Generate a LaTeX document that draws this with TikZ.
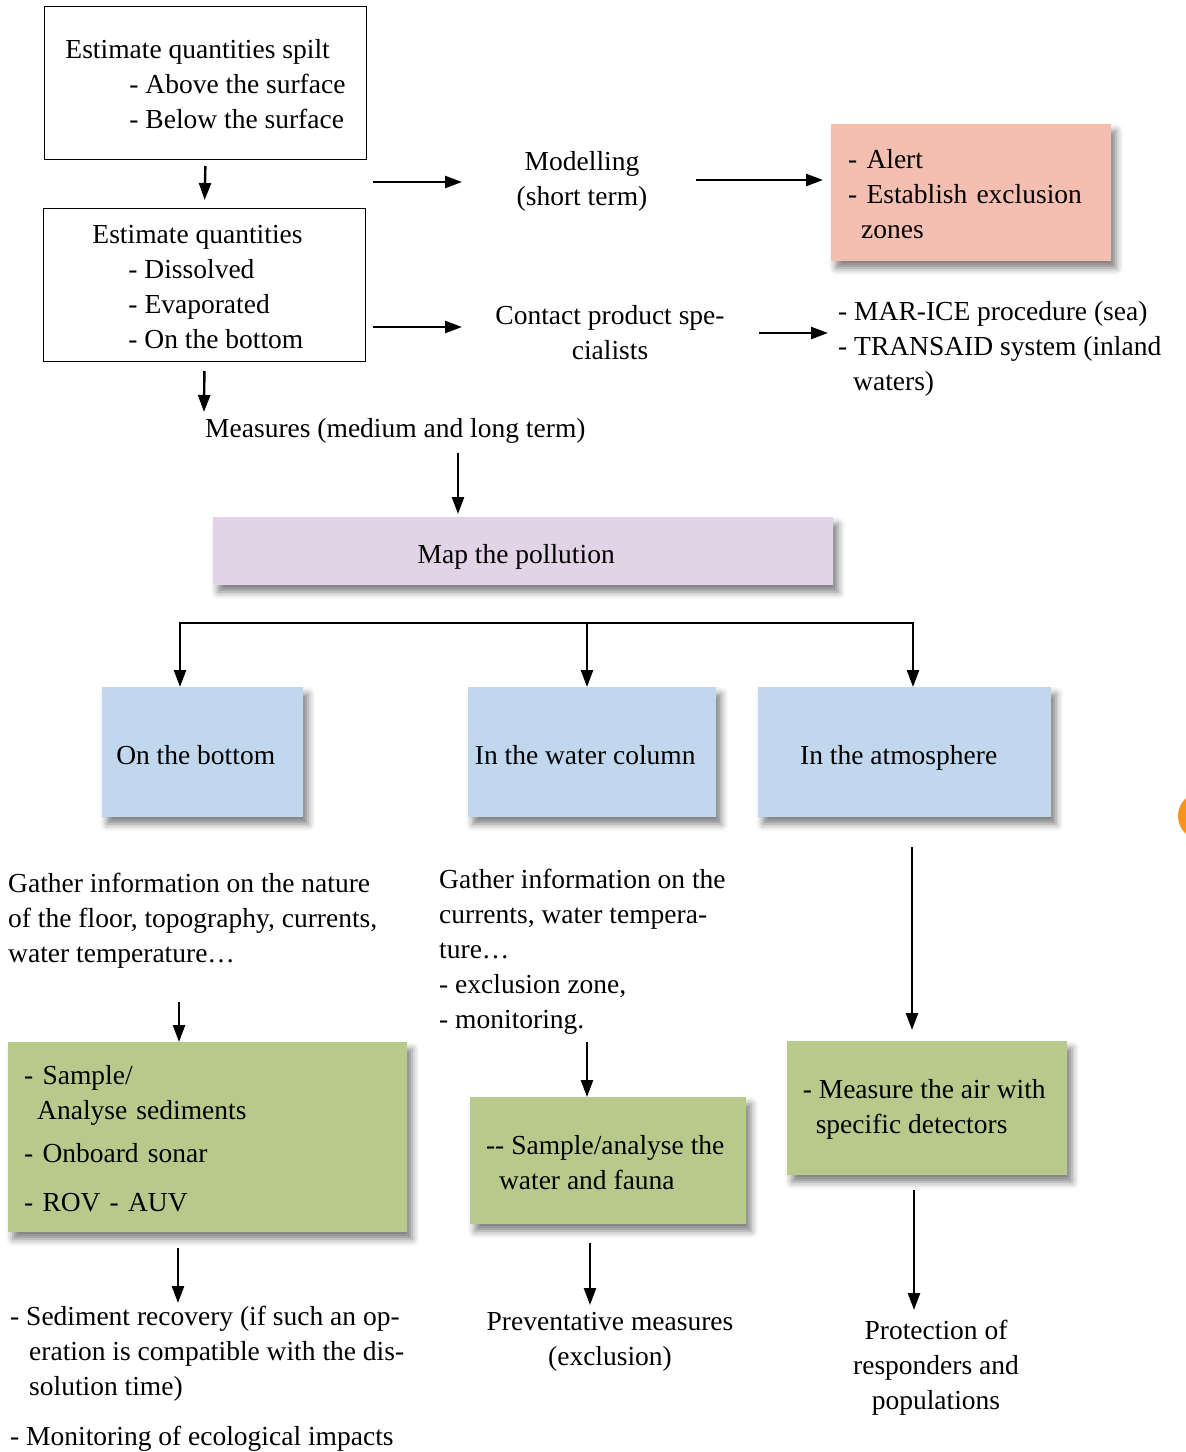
\documentclass[tikz,border=0pt]{standalone}
\usepackage{fontspec}
\setmainfont{Liberation Serif}
\usetikzlibrary{arrows.meta,shadows.blur}
\definecolor{alertpink}{HTML}{F4BEB0}
\definecolor{mapmauve}{HTML}{E2D3E6}
\definecolor{zoneblue}{HTML}{C0D7EE}
\definecolor{actgreen}{HTML}{B8C98C}
\definecolor{taborange}{HTML}{F7941D}
\tikzset{
  box/.style={draw, line width=1pt, fill=white, anchor=north west, align=left},
  shadebox/.style={anchor=north west, blur shadow={shadow xshift=5pt, shadow yshift=-7pt, shadow blur radius=7pt, shadow opacity=50}},
  onerow/.style={text height=24pt, text depth=0pt},
  txt/.style={inner sep=0pt},
  arr/.style={line width=2.4pt, -{Triangle[length=17pt,width=12pt]}},
}
\begin{document}
\begin{tikzpicture}[x=1pt,y=-1pt,font=\fontsize{27.5}{35}\selectfont]
  \useasboundingbox (0,0) rectangle (1186,1452);
  % estimates (top left)
  \node[box, minimum width=322pt, minimum height=153pt] (spilt) at (44,6)
    {\rule{0pt}{22pt}Estimate quantities spilt\\\hspace*{64pt}- Above the surface\\\hspace*{64pt}- Below the surface};
  \node[box, minimum width=322pt, minimum height=153pt] (estim) at (43,208)
    {\rule{0pt}{22pt}Estimate quantities\hspace*{14pt}\\\hspace*{36pt}- Dissolved\\\hspace*{36pt}- Evaporated\\\hspace*{36pt}- On the bottom};
  \draw[arr, shorten <=6pt, shorten >=8pt] (spilt.south) -- (estim.north);
  \coordinate (mtop) at (204,412);
  \draw[arr, shorten <=9pt] (estim.south) -- (mtop);
  \node[txt, anchor=west] (measures) at (205,431) {Measures (medium and long term)};
  % short term branch
  \node[txt, align=center] (model) at (582,181) {Modelling\\(short term)};
  \coordinate (ms) at (373,182);
  \coordinate (me) at (462,182);
  \draw[arr] (ms) -- (me);
  \node[shadebox, fill=alertpink, minimum width=280pt, minimum height=137pt, inner xsep=17pt, text width=246pt, align=left] (alert) at (831,124)
    {\rule{0pt}{21pt}- Alert\\- Establish exclusion\\\hspace*{13pt}zones};
  \coordinate (as) at (696,180);
  \draw[arr, shorten >=8pt] (as) -- (as -| alert.west);
  % specialists branch
  \node[txt, align=center] (contact) at (610,333) {Contact product spe-\\cialists};
  \coordinate (cs) at (373,327);
  \coordinate (ce) at (462,327);
  \draw[arr] (cs) -- (ce);
  \node[txt, anchor=west, align=left] (marice) at (838,349)
    {- MAR-ICE procedure (sea)\\- TRANSAID system (inland\\\hspace*{15pt}waters)};
  \coordinate (ks) at (759,333);
  \coordinate (ke) at (828,333);
  \draw[arr] (ks) -- (ke);
  % map the pollution
  \node[shadebox, fill=mapmauve, minimum width=620pt, minimum height=68pt, onerow] (map) at (213,517)
    {Map the pollution\hspace*{14pt}};
  \coordinate (mp) at (458,453);
  \draw[arr, shorten >=3pt] (mp) -- (mp |- map.north);
  % three zones
  \node[shadebox, fill=zoneblue, minimum width=201pt, minimum height=130pt, onerow] (bot) at (102,687)
    {On the bottom\hspace*{14pt}};
  \node[shadebox, fill=zoneblue, minimum width=248pt, minimum height=130pt, onerow] (water) at (468,687)
    {In the water column\hspace*{14pt}};
  \node[shadebox, fill=zoneblue, minimum width=293pt, minimum height=130pt, onerow] (atmos) at (758,687)
    {In the atmosphere\hspace*{12pt}};
  \coordinate (fl) at (180,623);
  \coordinate (fm) at (587,623);
  \coordinate (fr) at (913,623);
  \draw[line width=2.4pt, line cap=rect] (fl) -- (fr);
  \draw[arr] (fl) -- (fl |- bot.north);
  \draw[arr] (fm) -- (fm |- water.north);
  \draw[arr] (fr) -- (fr |- atmos.north);
  % bottom column
  \node[txt, anchor=west, align=left] (gbot) at (8,921)
    {Gather information on the nature\\of the floor, topography, currents,\\water temperature\ldots};
  \node[shadebox, fill=actgreen, minimum width=399pt, minimum height=190pt, inner xsep=16pt, text width=367pt, align=left] (sedi) at (8,1042)
    {\rule{0pt}{21pt}- Sample/\\\hspace*{13pt}Analyse sediments\\[8pt]- Onboard sonar\\[14pt]- ROV - AUV};
  \coordinate (gl) at (179,1002);
  \draw[arr] (gl) -- (gl |- sedi.north);
  \coordinate (sl) at (178,1303);
  \draw[arr, shorten <=16pt] (sl |- sedi.south) -- (sl);
  \node[txt, anchor=west, align=left] (recov) at (10,1379)
    {- Sediment recovery (if such an op-\\\hspace*{19pt}eration is compatible with the dis-\\\hspace*{19pt}solution time)\\[15pt]- Monitoring of ecological impacts};
  % water column
  \node[txt, anchor=west, align=left] (gwat) at (439,952)
    {Gather information on the\\currents, water tempera-\\ture\ldots\\- exclusion zone,\\- monitoring.};
  \node[shadebox, fill=actgreen, minimum width=276pt, minimum height=127pt, align=left] (wsamp) at (470,1097)
    {\rule{0pt}{23pt}-{}- Sample/analyse the\hspace*{6pt}\\\hspace*{13pt}water and fauna};
  \coordinate (gm) at (587,1042);
  \draw[arr] (gm) -- (gm |- wsamp.north);
  \coordinate (pm) at (590,1305);
  \draw[arr, shorten <=19pt] (pm |- wsamp.south) -- (pm);
  \node[txt, align=center] (prev) at (610,1342) {Preventative measures\\(exclusion)};
  % atmosphere
  \node[shadebox, fill=actgreen, minimum width=280pt, minimum height=134pt, align=left] (air) at (787,1041)
    {\rule{0pt}{21pt}- Measure the air with\hspace*{6pt}\\\hspace*{13pt}specific detectors};
  \coordinate (ar) at (912,847);
  \draw[arr, shorten >=11pt] (ar) -- (ar |- air.north);
  \coordinate (pr) at (914,1310);
  \draw[arr, shorten <=15pt] (pr |- air.south) -- (pr);
  \node[txt, align=center] (protect) at (936,1368) {Protection of\\responders and\\populations};
  % page tab
  \fill[taborange] (1202,816) circle[radius=24pt];
\end{tikzpicture}
\end{document}
